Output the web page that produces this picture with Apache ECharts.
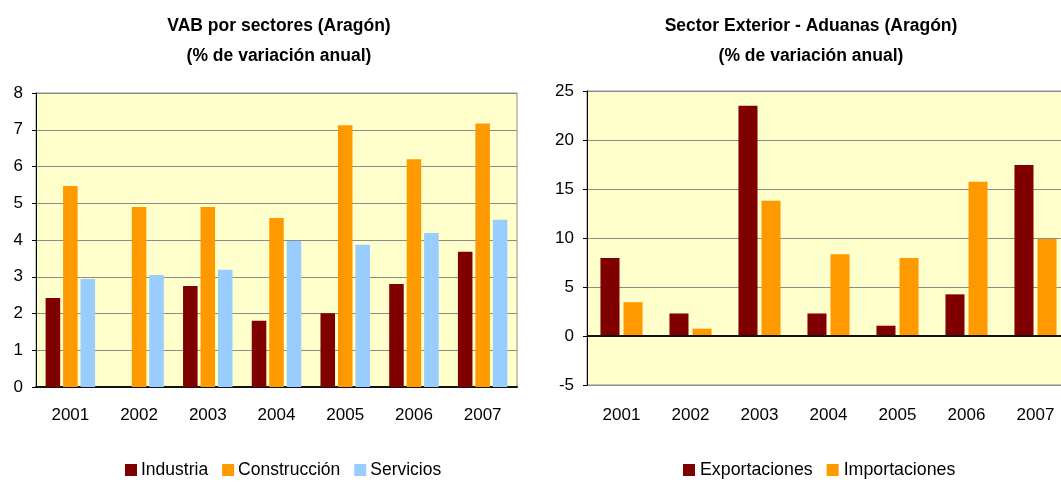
<!DOCTYPE html>
<html>
<head>
<meta charset="utf-8">
<script src="https://cdn.jsdelivr.net/npm/echarts@6/dist/echarts.min.js"></script>
<style>
html,body{margin:0;padding:0;background:#fff;}
#c{width:1061px;height:482px;}
</style>
</head>
<body>
<div id="c"></div>
<script>
const years = ['2001','2002','2003','2004','2005','2006','2007'];
const industria = [2.42, null, 2.75, 1.80, 2.01, 2.80, 3.68];
const construccion = [5.47, 4.90, 4.90, 4.60, 7.12, 6.20, 7.17];
const servicios = [2.94, 3.05, 3.19, 3.97, 3.87, 4.19, 4.55];
const exportaciones = [7.95, 2.3, 23.5, 2.3, 1.05, 4.25, 17.45];
const importaciones = [3.45, 0.75, 13.8, 8.35, 7.95, 15.75, 9.9];
const leftTicks = {min: 0, max: 8, interval: 1};
const rightTicks = {min: -5, max: 25, interval: 5};

const FONT = '"Liberation Sans", Arial, sans-serif';
const chart = echarts.init(document.getElementById('c'), null, {renderer: 'canvas'});

function yAx(gi, t){
  return {
    type: 'value', gridIndex: gi, min: t.min, max: t.max, interval: t.interval,
    axisLine: {show: true, lineStyle: {color: '#000', width: 1}},
    axisTick: {show: true, length: 4, lineStyle: {color: '#000'}},
    axisLabel: {color: '#000', fontSize: 17, fontFamily: FONT, margin: 13},
    splitLine: {show: true, lineStyle: {color: '#8c8c8c', width: 1}}
  };
}

const option = {
  backgroundColor: '#fff',
  animation: false,
  title: [
    {text: 'VAB por sectores (Aragón)\n(% de variación anual)', left: 279, top: 11, padding: 0,
     textAlign: 'center',
     textStyle: {fontFamily: FONT, fontSize: 17.5, fontWeight: 'bold', color: '#000', lineHeight: 30}},
    {text: 'Sector Exterior - Aduanas (Aragón)\n(% de variación anual)', left: 811, top: 11, padding: 0,
     textAlign: 'center',
     textStyle: {fontFamily: FONT, fontSize: 17.5, fontWeight: 'bold', color: '#000', lineHeight: 30}}
  ],
  legend: [
    {data: ['Industria','Construcción','Servicios'], left: 125, top: 461, padding: 0,
     icon: 'rect', itemWidth: 12, itemHeight: 12, itemGap: 14,
     textStyle: {fontFamily: FONT, fontSize: 17.5, color: '#000', padding: [0,0,0,-1]}},
    {data: ['Exportaciones','Importaciones'], left: 683, top: 461, padding: 0,
     icon: 'rect', itemWidth: 12, itemHeight: 12, itemGap: 14,
     textStyle: {fontFamily: FONT, fontSize: 17.8, color: '#000', padding: [0,0,0,0]}}
  ],
  grid: [
    {left: 36, width: 481, top: 93, height: 294, show: true, backgroundColor: '#FFFFCC',
     borderColor: '#8c8c8c', borderWidth: 1, containLabel: false, outerBoundsMode: 'none'},
    {left: 587, width: 483, top: 91, height: 294, show: true, backgroundColor: '#FFFFCC',
     borderColor: '#8c8c8c', borderWidth: 1, containLabel: false, outerBoundsMode: 'none'}
  ],
  xAxis: [
    {type: 'category', data: years, gridIndex: 0,
     axisLine: {show: true, lineStyle: {color: '#111', width: 2}},
     axisTick: {show: false},
     axisLabel: {color: '#000', fontSize: 17, fontFamily: FONT, margin: 20},
     splitLine: {show: false}},
    {type: 'category', data: years, gridIndex: 1,
     axisLine: {show: false, onZero: false},
     axisTick: {show: false},
     axisLabel: {color: '#000', fontSize: 17, fontFamily: FONT, margin: 22, hideOverlap: false},
     splitLine: {show: false}}
  ],
  yAxis: [yAx(0, leftTicks), yAx(1, rightTicks)],
  series: [
    {name: 'Industria', type: 'bar', xAxisIndex: 0, yAxisIndex: 0, data: industria,
     itemStyle: {color: '#800000'}, barGap: '20%', barCategoryGap: '28%'},
    {name: 'Construcción', type: 'bar', xAxisIndex: 0, yAxisIndex: 0, data: construccion,
     itemStyle: {color: '#FF9900'}, barGap: '20%', barCategoryGap: '28%'},
    {name: 'Servicios', type: 'bar', xAxisIndex: 0, yAxisIndex: 0, data: servicios,
     itemStyle: {color: '#99CCFF'}, barGap: '20%', barCategoryGap: '28%'},
    {name: 'Exportaciones', type: 'bar', xAxisIndex: 1, yAxisIndex: 1, data: exportaciones,
     itemStyle: {color: '#800000'}, barGap: '21%', barCategoryGap: '39%',
     markLine: {silent: true, symbol: 'none', label: {show: false},
       lineStyle: {color: '#111', width: 2, type: 'solid'}, data: [{yAxis: 0}]}},
    {name: 'Importaciones', type: 'bar', xAxisIndex: 1, yAxisIndex: 1, data: importaciones,
     itemStyle: {color: '#FF9900'}, barGap: '21%', barCategoryGap: '39%'}
  ]
};
chart.setOption(option);
</script>
</body>
</html>
